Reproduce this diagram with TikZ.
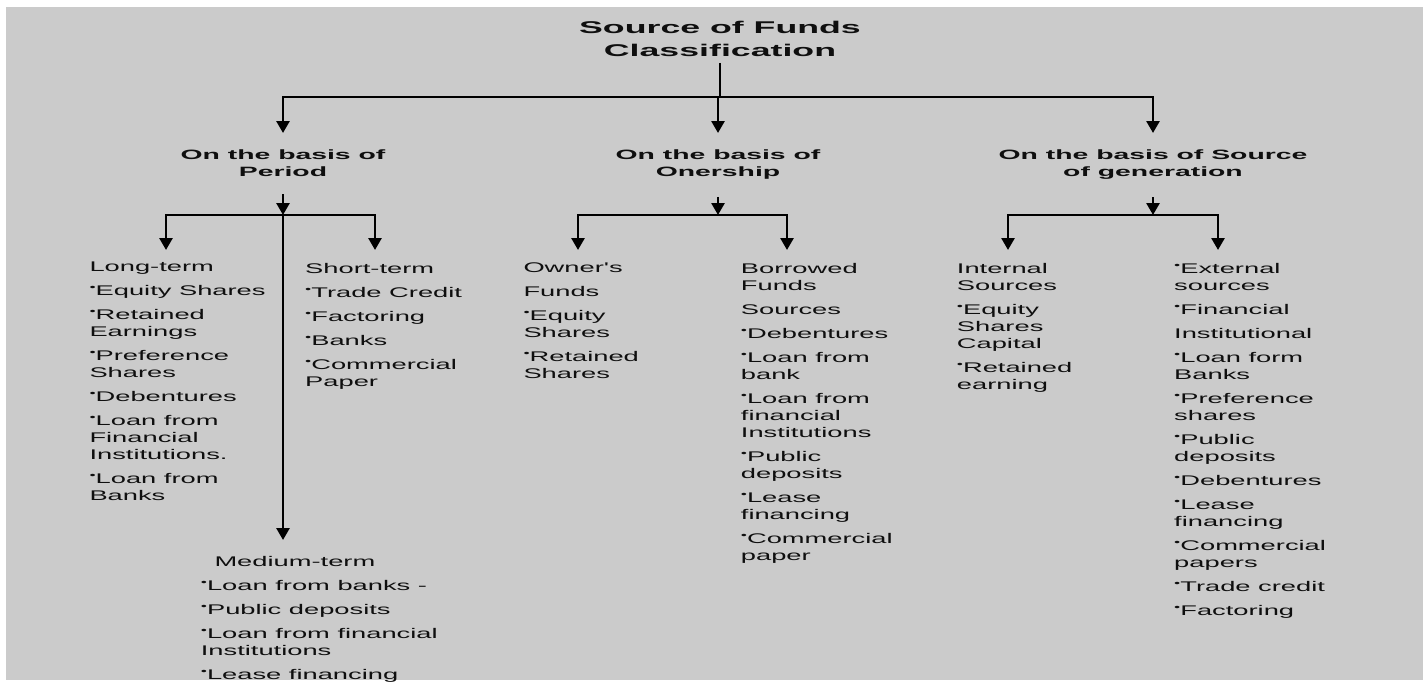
\documentclass[tikz,border=0pt]{standalone}
\usepackage{fontspec}
\setmainfont{Liberation Sans}
\newfontfamily\bodyfont{Liberation Sans}[FakeStretch=1.95]
\newfontfamily\headfont{Liberation Sans}[FakeStretch=2.1]
\usetikzlibrary{arrows.meta}
\pgfdeclarelayer{backlayer}
\pgfdeclarelayer{edgelayer}
\pgfdeclarelayer{nodelayer}
\pgfsetlayers{backlayer,edgelayer,nodelayer,main}
\definecolor{panel}{RGB}{203,203,203}
\definecolor{ink}{RGB}{15,15,15}
\tikzset{x=10pt,y=10pt}
\tikzstyle{none}=[inner sep=0pt]
\tikzstyle{title}=[anchor=north, align=center, inner xsep=0pt, inner ysep=6pt, text=ink, font=\headfont\bfseries\fontsize{17}{23}\selectfont]
\tikzstyle{head}=[anchor=north, align=center, inner xsep=0pt, inner ysep=17pt, text=ink, font=\headfont\bfseries\fontsize{13.5}{17}\selectfont]
\tikzstyle{list}=[anchor=north west, align=left, inner sep=0pt, text=ink, font=\bodyfont\fontsize{14}{17}\selectfont]
\tikzstyle{wire}=[line width=2.7pt, draw=black]
\tikzstyle{arrowline}=[wire, -{Triangle[width=13pt,length=12pt]}]
\newcommand{\bt}{\raisebox{5pt}{\fontsize{9}{9}\selectfont\textbullet}}

\begin{document}
\begin{tikzpicture}
	\useasboundingbox (0, 0) rectangle (142.3, -68.1);
	\begin{pgfonlayer}{backlayer}
		\fill [white] (0, 0) rectangle (142.3, -68.1);
		\fill [panel] (0.6, -0.7) rectangle (142.3, -68.0);
	\end{pgfonlayer}
	\begin{pgfonlayer}{nodelayer}
		\node [style=title] (0) at (72.0, -1.5) {Source of Funds\\Classification};
		\node [style=head] (1) at (28.3, -13.3) {On the basis of\\Period};
		\node [style=head] (2) at (71.8, -13.3) {On the basis of\\Onership};
		\node [style=head] (3) at (115.3, -13.3) {On the basis of Source\\of generation};
		\node [style=list] (4) at (8.93, -26.2) {Long-term\\[7pt]\bt Equity Shares\\[7pt]\bt Retained\\Earnings\\[7pt]\bt Preference\\Shares\\[7pt]\bt Debentures\\[7pt]\bt Loan from\\Financial\\Institutions.\\[7pt]\bt Loan from\\Banks};
		\node [style=list] (5) at (30.5, -26.3) {Short-term\\[7pt]\bt Trade Credit\\[7pt]\bt Factoring\\[7pt]\bt Banks\\[7pt]\bt Commercial\\Paper};
		\node [style=list] (6) at (20.07, -55.6) {\hspace*{13.6pt}Medium-term\\[7pt]\bt Loan from banks -\\[7pt]\bt Public deposits\\[7pt]\bt Loan from financial\\Institutions\\[7pt]\bt Lease financing};
		\node [style=list] (7) at (52.33, -26.3) {Owner's\\[7pt]Funds\\[7pt]\bt Equity\\Shares\\[7pt]\bt Retained\\Shares};
		\node [style=list] (8) at (74.07, -26.3) {Borrowed\\Funds\\[7pt]Sources\\[7pt]\bt Debentures\\[7pt]\bt Loan from\\bank\\[7pt]\bt Loan from\\financial\\Institutions\\[7pt]\bt Public\\deposits\\[7pt]\bt Lease\\financing\\[7pt]\bt Commercial\\paper};
		\node [style=list] (9) at (95.67, -26.3) {Internal\\Sources\\[7pt]\bt Equity\\Shares\\Capital\\[7pt]\bt Retained\\earning};
		\node [style=list] (10) at (117.4, -26.3) {\bt External\\sources\\[7pt]\bt Financial\\[7pt]Institutional\\[7pt]\bt Loan form\\Banks\\[7pt]\bt Preference\\shares\\[7pt]\bt Public\\deposits\\[7pt]\bt Debentures\\[7pt]\bt Lease\\financing\\[7pt]\bt Commercial\\papers\\[7pt]\bt Trade credit\\[7pt]\bt Factoring};
		\node [style=none] (11) at (72.0, -9.7) {};
		\node [style=none] (12) at (28.3, -21.5) {};
		\node [style=none] (13) at (16.6, -25.0) {};
		\node [style=none] (14) at (37.5, -25.0) {};
		\node [style=none] (15) at (28.3, -54.0) {};
		\node [style=none] (16) at (71.8, -21.5) {};
		\node [style=none] (17) at (57.8, -25.0) {};
		\node [style=none] (18) at (78.7, -25.0) {};
		\node [style=none] (19) at (115.3, -21.5) {};
		\node [style=none] (20) at (100.8, -25.0) {};
		\node [style=none] (21) at (121.8, -25.0) {};
	\end{pgfonlayer}
	\begin{pgfonlayer}{edgelayer}
		\draw [style=wire] (0) to (11.center);
		\draw [style=arrowline] (11.center) -| (1);
		\draw [style=arrowline] (11.center) -| (2);
		\draw [style=arrowline] (11.center) -| (3);
		\draw [style=arrowline] (1) to (12.center);
		\draw [style=arrowline] (12.center) -| (13.center);
		\draw [style=arrowline] (12.center) -| (14.center);
		\draw [style=arrowline] (12.center) to (15.center);
		\draw [style=arrowline] (2) to (16.center);
		\draw [style=arrowline] (16.center) -| (17.center);
		\draw [style=arrowline] (16.center) -| (18.center);
		\draw [style=arrowline] (3) to (19.center);
		\draw [style=arrowline] (19.center) -| (20.center);
		\draw [style=arrowline] (19.center) -| (21.center);
	\end{pgfonlayer}
\end{tikzpicture}
\end{document}
